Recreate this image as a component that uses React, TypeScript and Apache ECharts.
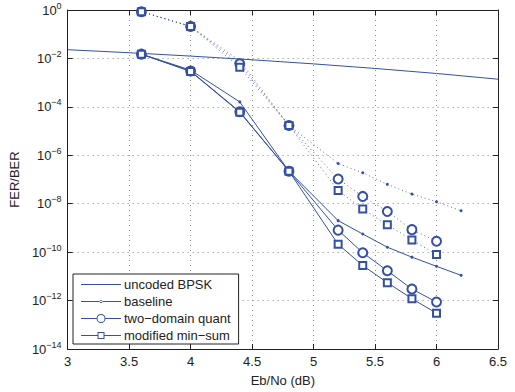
import React, { useEffect, useRef } from "react";
import * as echarts from "echarts";

const uncodedX = [3, 3.5, 4, 4.5, 5, 5.5, 6, 6.5];
const uncodedBER = [0.0229, 0.0172, 0.0125, 0.0088, 0.00595, 0.00386, 0.00239, 0.00139];

const baselineX = [3.6, 4.0, 4.4, 4.8, 5.2, 5.4, 5.6, 5.8, 6.0, 6.2];
const baselineBER = [1.5e-2, 3.3e-3, 1.6e-4, 2.2e-7, 2.0e-9, 5.6e-10, 1.6e-10, 6.2e-11, 2.6e-11, 1.1e-11];
const baselineFER = [0.85, 0.21, 8e-3, 1.7e-5, 4.6e-7, 1.9e-7, 6.3e-8, 2.5e-8, 1.2e-8, 5.1e-9];

const codedX = [3.6, 4.0, 4.4, 4.8, 5.2, 5.4, 5.6, 5.8, 6.0];
const twoDomainBER = [1.5e-2, 3.0e-3, 6.3e-5, 2.2e-7, 8.1e-10, 9.5e-11, 1.7e-11, 3.0e-12, 8.7e-13];
const twoDomainFER = [0.85, 0.21, 6.0e-3, 1.7e-5, 1.05e-7, 2.0e-8, 4.8e-9, 8.5e-10, 2.8e-10];
const minSumBER = [1.5e-2, 2.9e-3, 6.0e-5, 2.2e-7, 2.1e-10, 2.8e-11, 5.5e-12, 1.2e-12, 3.0e-13];
const minSumFER = [0.85, 0.21, 4.3e-3, 1.7e-5, 3.5e-8, 6.0e-9, 1.35e-9, 3.2e-10, 7.9e-11];

const xTicks = [3, 3.5, 4, 4.5, 5, 5.5, 6, 6.5];
const legendNames = ["uncoded BPSK", "baseline", "two\u2212domain quant", "modified min\u2212sum"];

const BLUE = "#3550a3";
const FONT = "Liberation Sans";

const LINE_ICON = "path://M0,0 L40,0 L40,1 L0,1 Z";
const DOT_ICON =
  "path://M0,2 L40,2 L40,3 L0,3 Z M18.5,2.5 A1.5,1.5 0 1,0 21.5,2.5 A1.5,1.5 0 1,0 18.5,2.5 Z";
const CIRCLE_ICON =
  "path://M0,4.5 L15.6,4.5 L15.6,5.5 L0,5.5 Z M24.4,4.5 L40,4.5 L40,5.5 L24.4,5.5 Z " +
  "M15.5,5 A4.5,4.5 0 1,1 24.5,5 A4.5,4.5 0 1,1 15.5,5 Z " +
  "M16.5,5 A3.5,3.5 0 1,0 23.5,5 A3.5,3.5 0 1,0 16.5,5 Z";
const SQUARE_ICON =
  "path://M0,4.5 L16.5,4.5 L16.5,5.5 L0,5.5 Z M23.5,4.5 L40,4.5 L40,5.5 L23.5,5.5 Z " +
  "M16.5,1.5 L23.5,1.5 L23.5,8.5 L16.5,8.5 Z M17.5,2.5 L17.5,7.5 L22.5,7.5 L22.5,2.5 Z";

const zip = (xs: number[], ys: number[]) => xs.map((x, i) => [x, ys[i]]);

export default function App() {
  const ref = useRef<HTMLDivElement>(null);
  useEffect(() => {
    if (!ref.current) return;
    const chart = echarts.init(ref.current, null, { renderer: "svg" });
    const solid = { color: BLUE, width: 1 };
    const dotted = { color: BLUE, width: 1, type: [1, 3] as any, opacity: 0.85 };
    const option: any = {
      animation: false,
      backgroundColor: "#fff",
      textStyle: { fontFamily: FONT },
      grid: { left: 67, right: 17, top: 10, bottom: 40, show: false },
      legend: {
        data: [
          { name: legendNames[0], icon: LINE_ICON },
          { name: legendNames[1], icon: DOT_ICON },
          { name: legendNames[2], icon: CIRCLE_ICON },
          { name: legendNames[3], icon: SQUARE_ICON },
        ],
        orient: "vertical",
        left: 73,
        top: 274,
        width: 150,
        itemWidth: 40,
        itemHeight: 10,
        itemGap: 4,
        padding: [4, 8, 2, 8],
        borderColor: "#222",
        borderWidth: 1,
        backgroundColor: "#fff",
        itemStyle: { color: BLUE, borderWidth: 0 },
        textStyle: { fontFamily: FONT, fontSize: 13, color: "#222", padding: [0, 0, 0, -2] },
      },
      xAxis: [
        {
          type: "value",
          min: 3,
          max: 6.5,
          interval: 0.5,
          name: "Eb/No (dB)",
          nameLocation: "middle",
          nameGap: 25,
          nameTextStyle: { fontFamily: FONT, fontSize: 13, color: "#222" },
          axisLine: { show: true, lineStyle: { color: "#222" } },
          axisTick: { show: true, inside: true, length: 5, lineStyle: { color: "#222" } },
          axisLabel: {
            fontFamily: FONT,
            fontSize: 13,
            color: "#222",
            margin: 6,
            formatter: (v: number) => String(xTicks.find((t) => Math.abs(t - v) < 1e-6) ?? v),
          },
          splitLine: { show: true, lineStyle: { color: "#888", type: [1, 4], width: 1 } },
        },
        {
          type: "value",
          position: "top",
          min: 3,
          max: 6.5,
          interval: 0.5,
          axisLine: { show: true, lineStyle: { color: "#222" } },
          axisTick: { show: true, inside: true, length: 5, lineStyle: { color: "#222" } },
          axisLabel: { show: false },
          splitLine: { show: false },
        },
      ],
      yAxis: [
        {
          type: "log",
          logBase: 10,
          min: 1e-14,
          max: 1,
          interval: 2,
          name: "FER/BER",
          nameLocation: "middle",
          nameGap: 42,
          nameTextStyle: { fontFamily: FONT, fontSize: 13, color: "#222" },
          axisLine: { show: true, lineStyle: { color: "#222" } },
          axisTick: { show: true, inside: true, length: 5, lineStyle: { color: "#222" } },
          axisLabel: {
            fontFamily: FONT,
            margin: 6,
            color: "#222",
            formatter: (v: number) => {
              const e = Math.round(Math.log10(v));
              const s = e < 0 ? "\u2212" + -e : String(e);
              return `{b|10}{s|${s}}`;
            },
            rich: {
              b: { fontFamily: FONT, fontSize: 13, color: "#222" },
              s: { fontFamily: FONT, fontSize: 9, color: "#222", padding: [0, 0, 9, 0] },
            },
          },
          splitLine: { show: true, lineStyle: { color: "#888", type: [1, 4], width: 1 } },
        },
        {
          type: "log",
          logBase: 10,
          position: "right",
          min: 1e-14,
          max: 1,
          interval: 2,
          axisLine: { show: true, lineStyle: { color: "#222" } },
          axisTick: { show: true, inside: true, length: 5, lineStyle: { color: "#222" } },
          axisLabel: { show: false },
          splitLine: { show: false },
        },
      ],
      series: [
        {
          name: legendNames[0],
          type: "line",
          data: zip(uncodedX, uncodedBER),
          showSymbol: false,
          symbol: "none",
          lineStyle: solid,
          itemStyle: { color: BLUE },
        },
        {
          name: legendNames[1],
          type: "line",
          data: zip(baselineX, baselineBER),
          symbol: "circle",
          symbolSize: 3,
          lineStyle: solid,
          itemStyle: { color: BLUE },
        },
        {
          name: legendNames[2],
          type: "line",
          data: zip(codedX, twoDomainBER),
          symbol: "emptyCircle",
          symbolSize: 9,
          lineStyle: solid,
          itemStyle: { color: BLUE, borderWidth: 1 },
        },
        {
          name: legendNames[3],
          type: "line",
          data: zip(codedX, minSumBER),
          symbol: "emptyRect",
          symbolSize: 7,
          lineStyle: solid,
          itemStyle: { color: BLUE, borderWidth: 1 },
        },
        {
          name: "baseline FER",
          type: "line",
          data: zip(baselineX, baselineFER),
          symbol: "circle",
          symbolSize: 3,
          lineStyle: dotted,
          itemStyle: { color: BLUE },
        },
        {
          name: "two-domain FER",
          type: "line",
          data: zip(codedX, twoDomainFER),
          symbol: "emptyCircle",
          symbolSize: 9,
          lineStyle: dotted,
          itemStyle: { color: BLUE, borderWidth: 1 },
        },
        {
          name: "min-sum FER",
          type: "line",
          data: zip(codedX, minSumFER),
          symbol: "emptyRect",
          symbolSize: 7,
          lineStyle: dotted,
          itemStyle: { color: BLUE, borderWidth: 1 },
        },
      ],
    };
    chart.setOption(option);
    return () => chart.dispose();
  }, []);
  return (
    <div
      ref={ref}
      style={{ position: "absolute", left: 0, top: 0, width: 515, height: 392 }}
    />
  );
}
